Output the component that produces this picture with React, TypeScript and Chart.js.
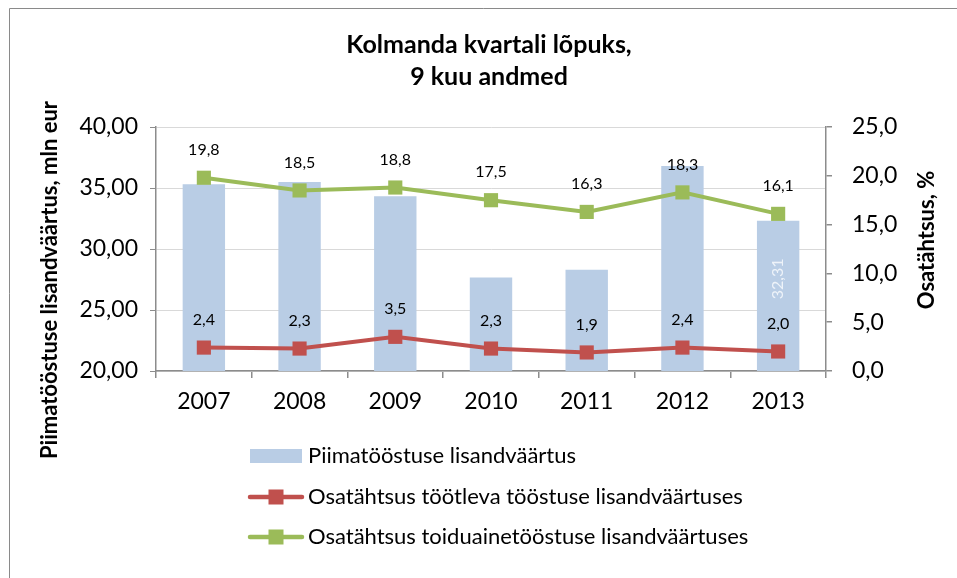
import React, { useEffect, useRef } from "react";
import { Chart, registerables } from "chart.js";

Chart.register(...registerables);

const years = ["2007", "2008", "2009", "2010", "2011", "2012", "2013"];
const dairyValueAdded = [35.3, 35.49, 34.32, 27.67, 28.3, 36.81, 32.31];
const shareManufacturing = [2.4, 2.3, 3.5, 2.3, 1.9, 2.4, 2.0];
const shareFood = [19.8, 18.5, 18.8, 17.5, 16.3, 18.3, 16.1];
const barLabelIndexes = [6];

const titleLines = ["Kolmanda kvartali lõpuks,", "9 kuu andmed"];
const leftTitle = "Piimatööstuse lisandväärtus, mln eur";
const rightTitle = "Osatähtsus, %";
const seriesNames = [
  "Piimatööstuse lisandväärtus",
  "Osatähtsus töötleva tööstuse lisandväärtuses",
  "Osatähtsus toiduainetööstuse lisandväärtuses",
];

const FONT = "Lato";
const BLUE = "#b9cde5";
const RED = "#c0504d";
const GREEN = "#9bbb59";
const AXIS = "#8c8c8c";
const GRID = "#d9d9d9";

const fmt = (v: number, d: number) => v.toFixed(d).replace(".", ",");

const customPlugin = {
  id: "custom",
  beforeDraw(chart: any) {
    const ctx = chart.ctx;
    ctx.save();
    ctx.strokeStyle = "#8a8a8a";
    ctx.lineWidth = 1;
    ctx.beginPath();
    ctx.moveTo(9.5, 578);
    ctx.lineTo(9.5, 8.5);
    ctx.lineTo(957, 8.5);
    ctx.stroke();
    ctx.restore();
  },
  afterDatasetsDraw(chart: any) {
    const ctx = chart.ctx;
    ctx.save();
    ctx.fillStyle = "#000";
    ctx.font = `16px ${FONT}`;
    ctx.textAlign = "center";
    ctx.textBaseline = "middle";
    [1, 2].forEach((di) => {
      const meta = chart.getDatasetMeta(di);
      const data = chart.data.datasets[di].data as number[];
      meta.data.forEach((pt: any, i: number) => {
        ctx.fillText(fmt(data[i], 1), pt.x, pt.y - 28);
      });
    });
    const barMeta = chart.getDatasetMeta(0);
    const barData = chart.data.datasets[0].data as number[];
    barLabelIndexes.forEach((i) => {
      const bar = barMeta.data[i];
      ctx.save();
      ctx.translate(bar.x, bar.y + 58);
      ctx.rotate(-Math.PI / 2);
      ctx.fillStyle = "#eef3f9";
      ctx.fillText(fmt(barData[i], 2), 0, 0);
      ctx.restore();
    });
    ctx.restore();
  },
  afterDraw(chart: any) {
    const ctx = chart.ctx;
    const ca = chart.chartArea;
    ctx.save();
    ctx.fillStyle = "#000";
    ctx.textAlign = "center";
    ctx.textBaseline = "middle";
    ctx.font = `bold 25px ${FONT}`;
    const cx = (ca.left + ca.right) / 2 - 2;
    ctx.fillText(titleLines[0], cx, 45);
    ctx.fillText(titleLines[1], cx, 77);

    ctx.font = `bold 22px ${FONT}`;
    ctx.save();
    ctx.translate(50, 280);
    ctx.rotate(-Math.PI / 2);
    ctx.fillText(leftTitle, 0, 0);
    ctx.restore();
    ctx.save();
    ctx.translate(927, 240);
    ctx.rotate(-Math.PI / 2);
    ctx.fillText(rightTitle, 0, 0);
    ctx.restore();

    // legend
    const rows = [456, 497, 537];
    const colors = [BLUE, RED, GREEN];
    ctx.font = `22px ${FONT}`;
    ctx.textAlign = "left";
    rows.forEach((y, i) => {
      if (i === 0) {
        ctx.fillStyle = colors[i];
        ctx.fillRect(250, y - 7, 52, 14);
      } else {
        ctx.strokeStyle = colors[i];
        ctx.lineWidth = 4.5;
        ctx.lineCap = "round";
        ctx.beginPath();
        ctx.moveTo(250, y);
        ctx.lineTo(302, y);
        ctx.stroke();
        ctx.fillStyle = colors[i];
        ctx.fillRect(268.5, y - 7.5, 15, 15);
      }
      ctx.fillStyle = "#000";
      ctx.fillText(seriesNames[i], 308, y);
    });
    ctx.restore();
  },
};

export default function App() {
  const ref = useRef<HTMLCanvasElement | null>(null);
  useEffect(() => {
    if (!ref.current) return;
    const chart = new Chart(ref.current, {
      type: "bar",
      data: {
        labels: years,
        datasets: [
          {
            type: "bar",
            label: seriesNames[0],
            data: dairyValueAdded,
            backgroundColor: BLUE,
            yAxisID: "y",
            barPercentage: 0.443,
            categoryPercentage: 1,
            order: 3,
          } as any,
          {
            type: "line",
            label: seriesNames[1],
            data: shareManufacturing,
            borderColor: RED,
            backgroundColor: RED,
            borderWidth: 4,
            pointStyle: "rect",
            pointRadius: 10,
            pointBorderWidth: 0,
            pointBackgroundColor: RED,
            tension: 0,
            yAxisID: "y1",
            order: 1,
          },
          {
            type: "line",
            label: seriesNames[2],
            data: shareFood,
            borderColor: GREEN,
            backgroundColor: GREEN,
            borderWidth: 4,
            pointStyle: "rect",
            pointRadius: 10,
            pointBorderWidth: 0,
            pointBackgroundColor: GREEN,
            tension: 0,
            yAxisID: "y1",
            order: 2,
          },
        ],
      },
      options: {
        responsive: false,
        devicePixelRatio: 1,
        animation: false,
        layout: { padding: { top: 127, left: 0, right: 0, bottom: 0 } },
        plugins: {
          legend: { display: false },
          title: { display: false },
          tooltip: { enabled: false },
        },
        scales: {
          x: {
            offset: true,
            grid: {
              offset: true,
              drawOnChartArea: false,
              tickLength: 7,
              tickColor: AXIS,
              lineWidth: 1.5,
            },
            border: { color: AXIS, width: 1.5 },
            ticks: {
              color: "#000",
              font: { family: FONT, size: 23 },
              padding: 10,
            },
            afterFit: (s: any) => {
              s.height = 207;
            },
          },
          y: {
            position: "left",
            min: 20,
            max: 40,
            ticks: {
              stepSize: 5,
              color: "#000",
              font: { family: FONT, size: 23 },
              padding: 12,
              callback: (v: any) => fmt(Number(v), 2),
            },
            grid: {
              color: GRID,
              lineWidth: 1,
              tickLength: 6,
              tickColor: AXIS,
            },
            border: { color: AXIS, width: 1.5 },
            afterFit: (s: any) => {
              s.width = 156;
            },
          },
          y1: {
            position: "right",
            min: 0,
            max: 25,
            ticks: {
              stepSize: 5,
              color: "#000",
              font: { family: FONT, size: 23 },
              padding: 20,
              callback: (v: any) => fmt(Number(v), 1),
            },
            grid: {
              drawOnChartArea: false,
              tickLength: 6,
              tickColor: AXIS,
              lineWidth: 1.5,
            },
            border: { color: AXIS, width: 1.5 },
            afterFit: (s: any) => {
              s.width = 131;
            },
          },
        },
      },
      plugins: [customPlugin],
    });
    return () => chart.destroy();
  }, []);
  return (
    <div style={{ position: "fixed", left: 0, top: 0, width: 957, height: 578, background: "#fff" }}>
      <canvas ref={ref} width={957} height={578} style={{ display: "block", width: 957, height: 578 }} />
    </div>
  );
}
